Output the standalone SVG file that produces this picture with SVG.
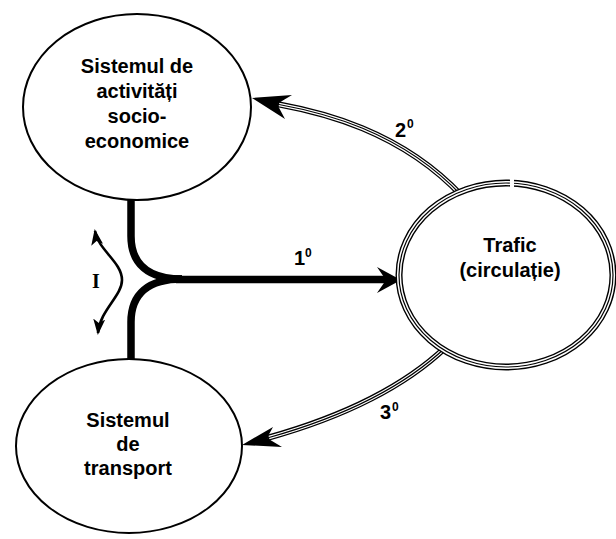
<svg xmlns="http://www.w3.org/2000/svg" width="616" height="539" viewBox="0 0 616 539">
<style>
.node{fill:#fff;stroke:#000;stroke-width:2}
.lbl{font-family:"Liberation Sans",Arial,sans-serif;font-weight:bold;font-size:20px;fill:#000;text-anchor:middle}
.num{font-family:"Liberation Sans",Arial,sans-serif;font-weight:bold;font-size:20px;fill:#000}
.sup{font-family:"Liberation Sans",Arial,sans-serif;font-weight:bold;font-size:12px;fill:#000}
.thick{fill:none;stroke:#000;stroke-width:7.5}
.trA{fill:none;stroke:#000;stroke-width:6}
.trB{fill:none;stroke:#fff;stroke-width:3.6}
.trC{fill:none;stroke:#000;stroke-width:1.2}
.head{fill:#000;stroke:none}
.wave{fill:none;stroke:#000;stroke-width:2.6}
</style>
<defs>
<marker id="barb" viewBox="0 0 16 12" refX="14" refY="6" markerWidth="16" markerHeight="12" markerUnits="userSpaceOnUse" orient="auto-start-reverse">
<path d="M0,0 L16,6 L0,12 L4,6 Z" fill="#000"/>
</marker>
</defs>
<rect width="616" height="539" fill="#fff"/>
<g id="connectors">
<path class="thick" d="M131,198 V236 C131,264 148,279 182,279"/>
<path class="thick" d="M131,362 V322 C131,294 148,279 182,279"/>
<path class="thick" d="M176,279.5 H388"/>
<polygon class="head" points="401,280 377,267 386,280 377,293"/>
<path class="trA" d="M277,104 C320,112 400,130 462,196"/>
<path class="trB" d="M279,104.5 C320,112 400,130 462,196"/>
<path class="trC" d="M279,104.5 C320,112 400,130 462,196"/>
<polygon class="head" points="252,98 292,95 277,104 285,119"/>
<path class="trA" d="M267,438 Q385,405 446,347"/>
<path class="trB" d="M269,437.5 Q385,405 446,347"/>
<path class="trC" d="M269,437.5 Q385,405 446,347"/>
<polygon class="head" points="242,445 273,427 267,438 282,447"/>
<path class="wave" d="M95,231 C98,250 122,262 122,280 C122,296 100,310 98,333" marker-start="url(#barb)" marker-end="url(#barb)"/>
</g>
<g id="labels">
<text class="num" x="294" y="265">1</text><text class="sup" x="305" y="257">0</text>
<text class="num" x="395" y="137">2</text><text class="sup" x="407" y="128">0</text>
<text class="num" x="380" y="419">3</text><text class="sup" x="392" y="411">0</text>
<text x="96" y="288" font-family="'Liberation Serif','Times New Roman',serif" font-weight="bold" font-size="20" text-anchor="middle">I</text>
</g>
<g id="node-activitati">
<ellipse class="node" cx="137" cy="107" rx="114" ry="93"/>
<text class="lbl" x="137" y="73">Sistemul de</text>
<text class="lbl" x="137" y="98">activități</text>
<text class="lbl" x="137" y="123">socio-</text>
<text class="lbl" x="137" y="148">economice</text>
</g>
<g id="node-transport">
<ellipse class="node" cx="129" cy="446" rx="113" ry="87"/>
<text class="lbl" x="128" y="427">Sistemul</text>
<text class="lbl" x="128" y="451">de</text>
<text class="lbl" x="128" y="475">transport</text>
</g>
<g id="node-trafic">
<ellipse cx="506" cy="275" rx="107" ry="92" fill="#fff" stroke="#000" stroke-width="7"/>
<ellipse cx="506" cy="275" rx="107" ry="92" fill="none" stroke="#fff" stroke-width="4.2"/>
<ellipse cx="506" cy="275" rx="107" ry="92" fill="none" stroke="#000" stroke-width="1.2"/>
<rect x="510" y="178" width="4" height="9" fill="#fff"/>
<text class="lbl" x="510" y="252">Trafic</text>
<text class="lbl" x="510" y="277">(circulație)</text>
</g>
</svg>
